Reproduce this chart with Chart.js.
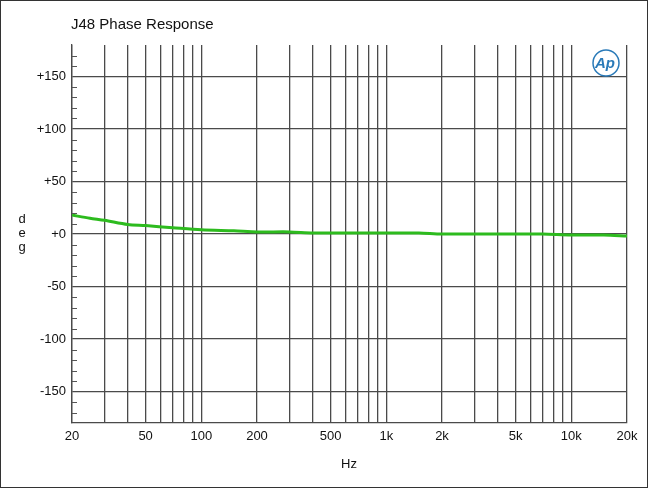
<!DOCTYPE html>
<html>
<head>
<script src="https://cdn.jsdelivr.net/npm/chart.js@4"></script>
<style>
body { margin: 0; background: #fff; }
#wrap { position: relative; width: 648px; height: 488px; }
#frame { position: absolute; left: 0; top: 0; width: 646px; height: 486px; border: 1px solid #333; pointer-events: none; }
</style>
</head>
<body>
<div id="wrap">
<canvas id="phaseGraph" width="648" height="488"></canvas>
<div id="frame"></div>
</div>
<script>
const freqs = [20, 25, 30, 40, 50, 70, 100, 150, 200, 300, 400, 700, 1000, 1500, 2000, 5000, 7000, 10000, 15000, 20000];
const phaseDeg = [18, 15, 13, 9, 8, 6, 4, 3, 2, 2, 1, 1, 1, 1, 0, 0, 0, -1, -1, -2];
const yTicks = [-150, -100, -50, 0, 50, 100, 150];
const xGrid = [20, 30, 40, 50, 60, 70, 80, 90, 100, 200, 300, 400, 500, 600, 700, 800, 900, 1000,
    2000, 3000, 4000, 5000, 6000, 7000, 8000, 9000, 10000, 20000];
const xLabels = { 20: '20', 50: '50', 100: '100', 200: '200', 500: '500', 1000: '1k', 2000: '2k', 5000: '5k', 10000: '10k', 20000: '20k' };

// title, axis labels, minor ticks and Ap logo
const decorPlugin = {
    id: 'decor',
    afterDraw(chart) {
        const c = chart.ctx;
        const y = chart.scales.y;
        const area = chart.chartArea;
        c.save();
        c.fillStyle = '#111';
        c.font = '15px Arial, "Liberation Sans"';
        c.textBaseline = 'middle';
        c.fillText('J48 Phase Response', 71, 25);
        c.font = '13px Arial, "Liberation Sans"';
        c.textAlign = 'center';
        ['d', 'e', 'g'].forEach((ch, i) => c.fillText(ch, 22, 219 + i * 14));
        c.fillText('Hz', 349, 464);
        // minor ticks every 10 deg
        c.strokeStyle = '#555';
        c.lineWidth = 1;
        for (let v = -170; v <= 170; v += 10) {
            if (v % 50 === 0) continue;
            const py = Math.round(y.getPixelForValue(v)) + 0.5;
            c.beginPath();
            c.moveTo(area.left, py);
            c.lineTo(area.left + 5, py);
            c.stroke();
        }
        // logo
        c.strokeStyle = '#2a7ab8';
        c.fillStyle = '#2a7ab8';
        c.lineWidth = 1.5;
        c.beginPath();
        c.arc(606, 63, 13, 0, Math.PI * 2);
        c.stroke();
        c.font = 'italic bold 15px Arial, "Liberation Sans"';
        c.fillText('Ap', 605, 64);
        c.restore();
    }
};

const ctx = document.getElementById('phaseGraph').getContext('2d');
const phaseChart = new Chart(ctx, {
    type: 'line',
    data: {
        datasets: [
            {
                data: freqs.map((f, i) => ({ x: f, y: phaseDeg[i] })),
                borderColor: '#2dbb1e',
                borderWidth: 3,
                pointRadius: 0,
                tension: 0.3,
            }
        ]
    },
    options: {
        responsive: false,
        animation: false,
        layout: { padding: { left: 0, top: 45, right: 21, bottom: 0 } },
        plugins: { legend: { display: false }, tooltip: { enabled: false } },
        scales: {
            x: {
                type: 'logarithmic',
                min: 20,
                max: 20000,
                afterFit: (s) => { s.height = 65; },
                afterBuildTicks: (s) => { s.ticks = xGrid.map(v => ({ value: v })); },
                ticks: {
                    autoSkip: false,
                    maxRotation: 0,
                    color: '#111',
                    font: { family: 'Arial, "Liberation Sans"', size: 13 },
                    padding: 6,
                    callback: (v) => xLabels[v] || '',
                },
                grid: { color: '#4a4a4a', lineWidth: 1.3, drawTicks: false },
                border: { color: '#4a4a4a', width: 1.3 },
            },
            y: {
                min: -180,
                max: 180,
                afterFit: (s) => { s.width = 72; },
                afterBuildTicks: (s) => { s.ticks = yTicks.map(v => ({ value: v })); },
                ticks: {
                    color: '#111',
                    font: { family: 'Arial, "Liberation Sans"', size: 13 },
                    padding: 6,
                    callback: (v) => (v >= 0 ? '+' + v : String(v)),
                },
                grid: { color: '#4a4a4a', lineWidth: 1.3, drawTicks: false },
                border: { color: '#4a4a4a', width: 1.3 },
            }
        }
    },
    plugins: [decorPlugin]
});
</script>
</body>
</html>
